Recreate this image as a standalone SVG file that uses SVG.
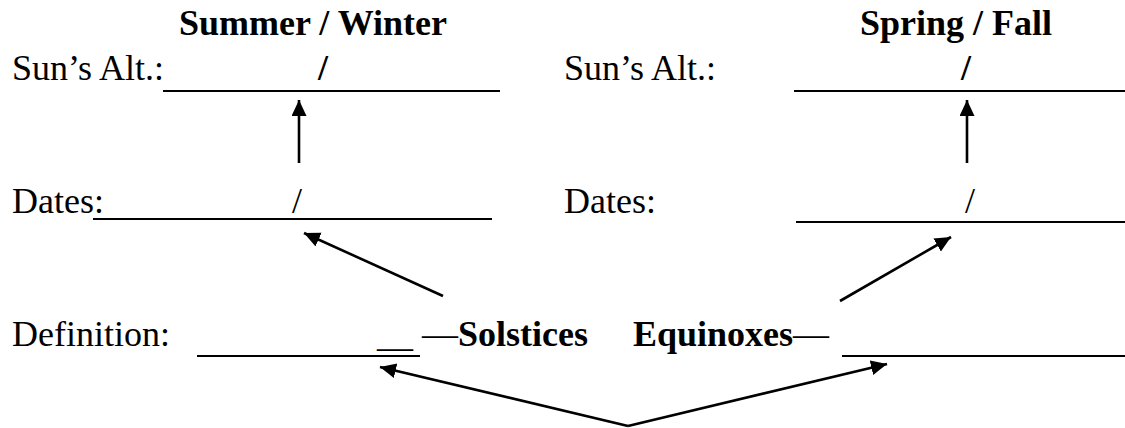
<svg xmlns="http://www.w3.org/2000/svg" width="1125" height="428" viewBox="0 0 1125 428">
<style>
  text { font-family: "Liberation Serif", "Times New Roman", serif; font-size: 36px; fill: #000; }
  .b { font-weight: bold; }
  .ul { stroke: #000; stroke-width: 2; fill: none; }
  .arr { stroke: #000; stroke-width: 2.6; fill: none; stroke-linecap: butt; marker-end: url(#ah); }
</style>
<defs>
  <marker id="ah" markerUnits="userSpaceOnUse" markerWidth="17" markerHeight="16" refX="16" refY="7.5" orient="auto">
    <path d="M0,0 L16,7.5 L0,15 z" fill="#000"/>
  </marker>
</defs>
<rect width="1125" height="428" fill="#fff"/>

<g id="title-summer-winter"><text class="b" x="179" y="35">Summer / Winter</text></g>
<g id="title-spring-fall"><text class="b" x="860" y="35">Spring / Fall</text></g>

<g id="alt-left">
  <text x="12" y="80">Sun’s Alt.:</text>
  <line class="ul" x1="163" y1="91" x2="500" y2="91"/>
  <text class="b" x="318" y="80">/</text>
</g>
<g id="alt-right">
  <text x="564" y="80">Sun’s Alt.:</text>
  <line class="ul" x1="794" y1="91" x2="1125" y2="91"/>
  <text class="b" x="961" y="80">/</text>
</g>

<g id="dates-left">
  <text x="12" y="213">Dates:</text>
  <line class="ul" x1="93" y1="219" x2="492" y2="219"/>
  <text x="292" y="213">/</text>
</g>
<g id="dates-right">
  <text x="564" y="213">Dates:</text>
  <line class="ul" x1="796" y1="222" x2="1125" y2="222"/>
  <text x="965" y="213">/</text>
</g>

<g id="definition-left">
  <text x="12" y="346">Definition:</text>
  <line class="ul" x1="197" y1="356" x2="420" y2="356"/>
  <text x="377" y="346">__</text>
</g>
<g id="solstices"><text x="422" y="346">—<tspan class="b">Solstices</tspan></text></g>
<g id="equinoxes"><text class="b" x="633" y="346">Equinoxes<tspan font-weight="normal">—</tspan></text></g>
<g id="definition-right">
  <line class="ul" x1="842" y1="356" x2="1125" y2="356"/>
</g>

<g id="connectors">
  <line class="arr" x1="299" y1="163" x2="299" y2="100"/>
  <line class="arr" x1="967" y1="163" x2="967" y2="100"/>
  <line class="arr" x1="443" y1="296" x2="304" y2="233"/>
  <line class="arr" x1="840" y1="301" x2="951" y2="237"/>
  <line class="arr" x1="628" y1="426" x2="380" y2="367"/>
  <line class="arr" x1="628" y1="426" x2="887" y2="364"/>
</g>
</svg>
